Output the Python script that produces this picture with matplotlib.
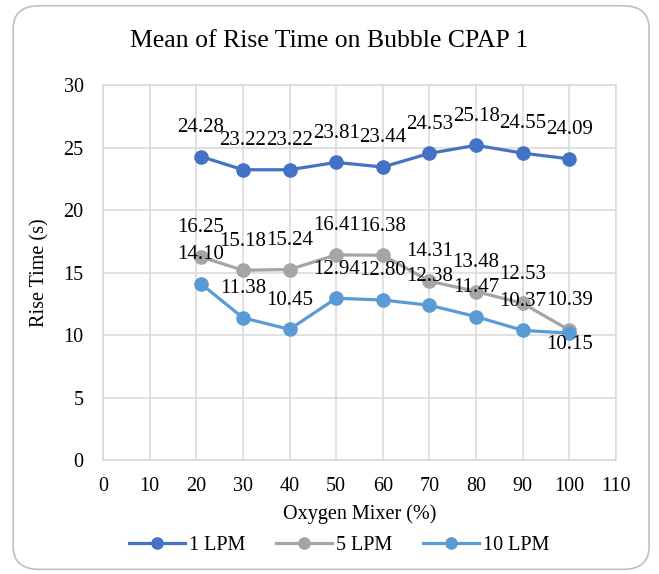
import matplotlib
matplotlib.use('Agg')
import matplotlib.pyplot as plt
from matplotlib.patches import FancyBboxPatch

plt.rcParams['font.family'] = ['Liberation Serif', 'DejaVu Serif']

# Data
oxygen = [21, 30, 40, 50, 60, 70, 80, 90, 100]
lpm1 = [24.28, 23.22, 23.22, 23.81, 23.44, 24.53, 25.18, 24.55, 24.09]
lpm5 = [16.25, 15.18, 15.24, 16.41, 16.38, 14.31, 13.48, 12.53, 10.39]
lpm10 = [14.10, 11.38, 10.45, 12.94, 12.80, 12.38, 11.47, 10.37, 10.15]

series = [('1 LPM', lpm1, '#4472C4'),
          ('5 LPM', lpm5, '#A5A5A5'),
          ('10 LPM', lpm10, '#5B9BD5')]

fig = plt.figure(figsize=(6.59, 5.74), dpi=100)
ax = fig.add_axes([0.1563, 0.1986, 0.7784, 0.6533])

# rounded chart border
border = FancyBboxPatch((0.02, 0.008), 0.965, 0.982,
                        boxstyle='round,pad=0,rounding_size=0.04',
                        transform=fig.transFigure, facecolor='none',
                        edgecolor='#BFBFBF', linewidth=1.2)
fig.patches.append(border)

for name, vals, col in series:
    ax.plot(oxygen, vals, color=col, linewidth=2.3, marker='o',
            markersize=9.5, label=name, zorder=3)

for name, vals, col in series:
    for x, y in zip(oxygen, vals):
        off = 21
        if name == '10 LPM' and x == 100:
            off = -8
        ax.annotate(f'{y:.2f}', (x, y), xytext=(0, off),
                    textcoords='offset points', ha='center', va='center',
                    fontsize=15, zorder=4)

ax.set_xlim(0, 110)
ax.set_ylim(0, 30)
ax.set_xticks(range(0, 111, 10))
ax.set_yticks(range(0, 31, 5))
ax.grid(True, color='#D9D9D9', linewidth=1.1)
ax.set_axisbelow(True)
for s in ax.spines.values():
    s.set_color('#D9D9D9')
    s.set_linewidth(1.1)
ax.tick_params(length=0, labelsize=14.5, colors='black')
ax.tick_params(axis='y', pad=14)
ax.tick_params(axis='x', pad=12)

ax.set_xlabel('Oxygen Mixer (%)', fontsize=14.5, labelpad=6)
ax.set_ylabel('Rise Time (s)', fontsize=14.5, labelpad=10)
fig.text(0.5, 0.928, 'Mean of Rise Time on Bubble CPAP 1', ha='center',
         va='center', fontsize=18.5)

fig.legend(loc='center', bbox_to_anchor=(0.515, 0.05), ncol=3,
           frameon=False, fontsize=14.5, handlelength=2.8,
           handletextpad=0.2, columnspacing=1.5, markerscale=0.85)

fig.savefig('out.png', dpi=100)
